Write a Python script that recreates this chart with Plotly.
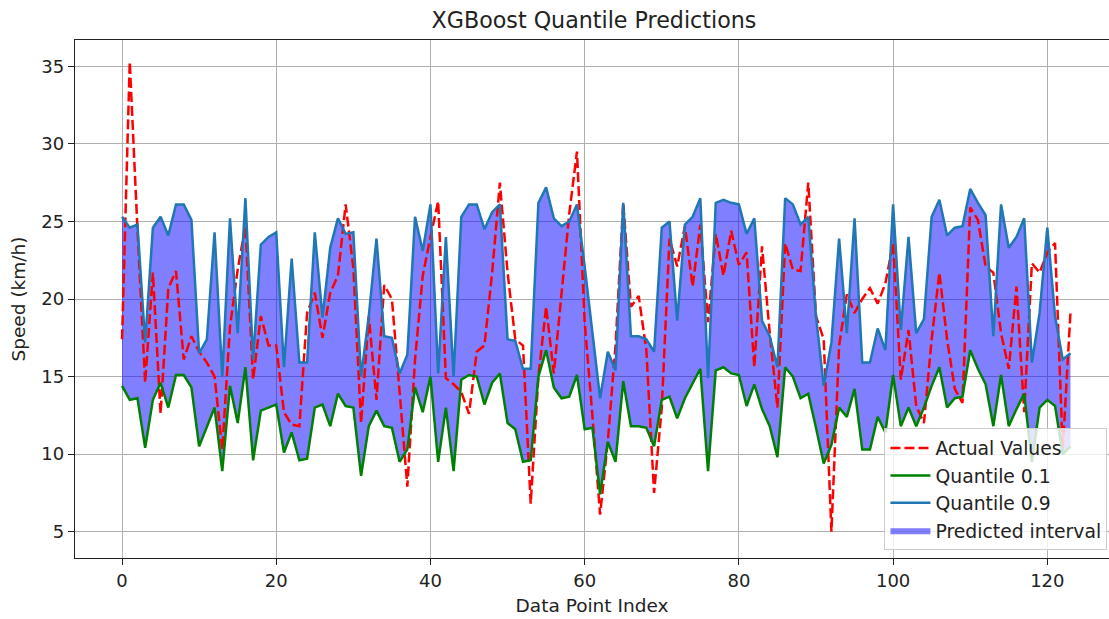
import plotly.graph_objects as go

idx = list(range(124))

actual = [17.4, 35.3, 24.5, 14.6, 21.7, 12.6, 20.7, 21.8, 16.1, 17.6,
          16.6, 15.9, 15.0, 10.3, 18.2, 21.9, 24.7, 14.8, 18.9, 17.0,
          17.0, 12.7, 11.9, 11.8, 19.1, 20.4, 17.5, 20.4, 21.5, 26.1,
          22.0, 12.0, 18.9, 13.5, 20.9, 20.0, 14.0, 7.9, 16.1, 21.5,
          24.0, 26.3, 14.9, 14.5, 14.0, 12.6, 16.6, 17.0, 21.7, 27.5,
          21.7, 17.4, 17.0, 6.8, 15.0, 19.5, 15.2, 20.6, 25.5, 29.5,
          18.5, 12.5, 6.1, 10.8, 17.0, 26.2, 19.5, 20.2, 16.7, 7.5,
          13.0, 23.9, 22.1, 24.7, 20.8, 24.8, 18.5, 24.2, 21.5, 24.4,
          22.2, 23.0, 15.6, 23.4, 17.8, 13.0, 23.6, 21.9, 21.8, 27.5,
          18.9, 17.4, 5.0, 17.0, 20.3, 19.1, 20.0, 20.7, 19.7, 21.0,
          23.6, 14.8, 18.0, 13.1, 12.0, 17.4, 21.7, 17.4, 14.2, 13.3,
          25.9, 25.1, 22.1, 21.7, 17.8, 15.5, 20.8, 12.7, 22.3, 21.7,
          23.0, 23.6, 10.3, 19.1]

q10 = [14.4, 13.5, 13.6, 10.4, 13.5, 14.6, 13.0, 15.1, 15.1, 14.3,
       10.5, 11.8, 13.0, 8.9, 14.4, 12.0, 15.6, 9.6, 12.8, 13.0,
       13.2, 10.1, 11.4, 9.6, 9.7, 13.0, 13.2, 11.8, 13.9, 13.1,
       13.0, 8.6, 11.8, 12.8, 11.8, 11.7, 9.5, 10.3, 14.3, 12.7,
       15.0, 9.5, 13.0, 8.9, 14.8, 15.1, 15.0, 13.2, 14.6, 15.2,
       12.0, 11.6, 9.5, 9.6, 15.0, 16.7, 14.3, 13.6, 13.7, 15.1,
       11.6, 11.7, 7.4, 10.8, 9.5, 14.7, 11.8, 11.8, 11.7, 10.5,
       13.5, 13.7, 12.3, 13.6, 14.6, 15.5, 8.9, 15.4, 15.6, 15.2,
       15.1, 13.1, 14.5, 12.9, 11.8, 9.8, 15.6, 15.0, 13.6, 13.9,
       11.7, 9.4, 10.6, 13.0, 12.4, 14.2, 10.3, 10.3, 12.4, 11.4,
       15.1, 11.8, 13.0, 11.8, 13.0, 14.4, 15.6, 13.0, 13.6, 13.7,
       16.7, 15.5, 14.5, 11.8, 15.1, 11.8, 12.9, 13.9, 9.5, 13.0,
       13.5, 13.1, 10.0, 10.5]

q90 = [25.3, 24.6, 24.8, 17.2, 24.6, 25.3, 24.1, 26.1, 26.1, 25.1,
       16.5, 17.4, 24.3, 15.0, 25.2, 17.8, 26.5, 16.1, 23.5, 24.0,
       24.3, 15.6, 22.6, 15.9, 15.9, 24.3, 18.8, 23.3, 25.2, 24.2,
       24.3, 15.0, 18.9, 23.9, 17.6, 17.5, 15.2, 16.4, 25.3, 23.1,
       26.1, 15.2, 24.0, 15.0, 25.3, 26.1, 26.1, 24.5, 25.6, 26.1,
       17.4, 17.3, 15.5, 15.5, 26.2, 27.2, 25.2, 24.7, 25.0, 26.1,
       22.1, 17.8, 13.6, 16.6, 15.4, 26.2, 17.6, 17.6, 17.4, 16.6,
       24.6, 25.0, 18.6, 24.8, 25.3, 26.5, 14.9, 26.2, 26.4, 26.2,
       26.1, 24.2, 25.2, 18.6, 17.6, 15.6, 26.5, 26.1, 24.8, 25.3,
       18.9, 14.4, 17.2, 23.9, 17.8, 25.2, 15.9, 15.9, 18.1, 16.7,
       26.1, 18.0, 24.0, 17.8, 18.7, 25.3, 26.4, 24.1, 24.6, 24.7,
       27.1, 26.2, 25.4, 17.6, 26.1, 23.3, 24.0, 25.2, 15.9, 19.1,
       24.6, 18.9, 16.1, 16.5]

FONT = "DejaVu Sans"
BASE = 18.5
fig = go.Figure()

# interval fill (lower bound invisible, upper fills to it)
fig.add_trace(go.Scatter(x=idx, y=q10, mode="lines", line=dict(width=0),
                         showlegend=False, hoverinfo="skip", legendgroup="g4"))
fig.add_trace(go.Scatter(x=idx, y=q90, mode="lines", line=dict(width=0),
                         fill="tonexty", fillcolor="rgba(0,0,255,0.5)",
                         name="Predicted interval", legendrank=4, legendgroup="g4"))

fig.add_trace(go.Scatter(x=idx, y=actual, mode="lines", name="Actual Values",
                         line=dict(color="red", width=2.5, dash="10px,4px"),
                         legendrank=1, legendgroup="g1"))
fig.add_trace(go.Scatter(x=idx, y=q10, mode="lines", name="Quantile 0.1",
                         line=dict(color="green", width=2.5), legendrank=2,
                         legendgroup="g2"))
fig.add_trace(go.Scatter(x=idx, y=q90, mode="lines", name="Quantile 0.9",
                         line=dict(color="#1f77b4", width=2.5), legendrank=3,
                         legendgroup="g3"))

axis_common = dict(showline=True, linecolor="#222222", linewidth=1.3,
                   showgrid=True, gridcolor="#b0b0b0", gridwidth=1.2,
                   ticks="outside", ticklen=6, tickwidth=1.3, tickcolor="#222222",
                   zeroline=False,
                   tickfont=dict(family=FONT, size=BASE - 0.5, color="#222222"))

fig.update_layout(
    width=1109, height=619,
    margin=dict(l=75, r=0, t=40, b=61),
    paper_bgcolor="white", plot_bgcolor="white",
    title=dict(text="XGBoost Quantile Predictions", x=0.5356, xanchor="center",
               y=0.968, yanchor="middle",
               font=dict(family=FONT, size=22.2, color="#222222")),
    xaxis=dict(range=[-6.1, 128.0], tickvals=[0, 20, 40, 60, 80, 100, 120],
               mirror=True,
               title=dict(text="Data Point Index", standoff=9,
                          font=dict(family=FONT, size=BASE, color="#222222")),
               **axis_common),
    yaxis=dict(range=[3.3, 36.7], tickvals=[5, 10, 15, 20, 25, 30, 35],
               mirror=False,
               title=dict(text="Speed (km/h)", standoff=10,
                          font=dict(family=FONT, size=BASE, color="#222222")),
               **axis_common),
    legend=dict(x=0.9985, y=0.015, xanchor="right", yanchor="bottom",
                bgcolor="rgba(255,255,255,0.8)", bordercolor="#cccccc", borderwidth=1,
                font=dict(family=FONT, size=BASE + 0.3, color="#222222"),
                traceorder="normal", tracegroupgap=6, itemwidth=40),
    showlegend=True,
)

fig.write_html("out.html")
